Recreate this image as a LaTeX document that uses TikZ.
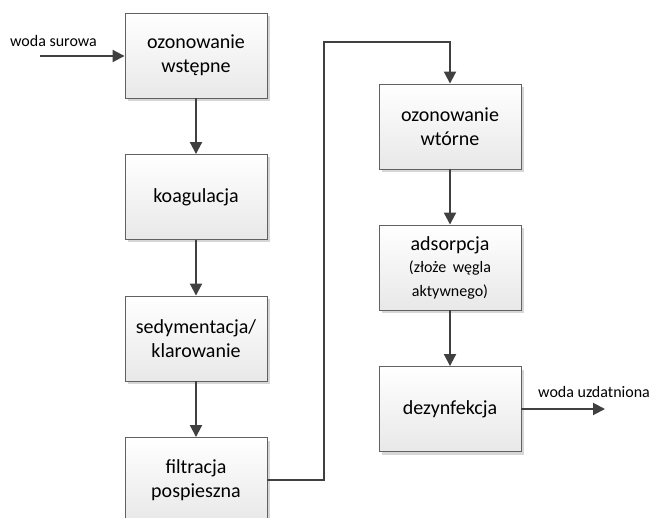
\documentclass[tikz,border=0pt]{standalone}
\usepackage{fontspec}
\setmainfont{Carlito}
\usetikzlibrary{arrows.meta,shadows}
\begin{document}
\begin{tikzpicture}[x=1pt,y=-1pt,
  stepbox/.style={draw=black!62, line width=0.9pt, top color=white, bottom color=black!9,
    minimum width=142pt, minimum height=85pt, text width=140pt, align=center,
    font=\fontsize{20}{24}\selectfont, inner sep=0pt,
    drop shadow={shadow xshift=3pt, shadow yshift=-3pt, fill=black!16, opacity=1}},
  flow/.style={draw=black!75, line width=2pt, -{Triangle[length=12pt,width=12pt]}},
  lbl/.style={font=\fontsize{16}{19}\selectfont, inner sep=0pt}]
\useasboundingbox (0,0) rectangle (652,518);

% left column
\node[stepbox] (b1) at (196,55.5) {ozonowanie\\wstępne};
\node[stepbox] (b2) at (196,197) {koagulacja};
\node[stepbox] (b3) at (196,338.5) {sedymentacja/\\klarowanie};
\node[stepbox] (b4) at (196,480) {filtracja\\pospieszna};

% right column
\node[stepbox] (b5) at (450,126.5) {ozonowanie\\wtórne};
\node[stepbox] (b6) at (450,267.5) {adsorpcja\\ \fontsize{16}{22}\selectfont (złoże węgla\\ aktywnego)};
\node[stepbox] (b7) at (450,409) {dezynfekcja};

% inflow
\coordinate (src) at (40,56);
\draw[flow] (src) -- (src -| b1.west);
\node[lbl, anchor=base west] (lin) at (10,47) {woda surowa};

% process chain
\draw[flow] (b1.south) -- (b2.north);
\draw[flow] (b2.south) -- (b3.north);
\draw[flow] (b3.south) -- (b4.north);
\coordinate (up) at (324,42);
\draw[flow] (b4.east) -| (up) -| (b5.north);
\draw[flow] (b5.south) -- (b6.north);
\draw[flow] (b6.south) -- (b7.north);

% outflow
\coordinate (dst) at (605,409);
\draw[flow] (b7.east) -- (dst);
\node[lbl, anchor=base west] (lout) at (538,397) {woda uzdatniona};
\end{tikzpicture}
\end{document}
